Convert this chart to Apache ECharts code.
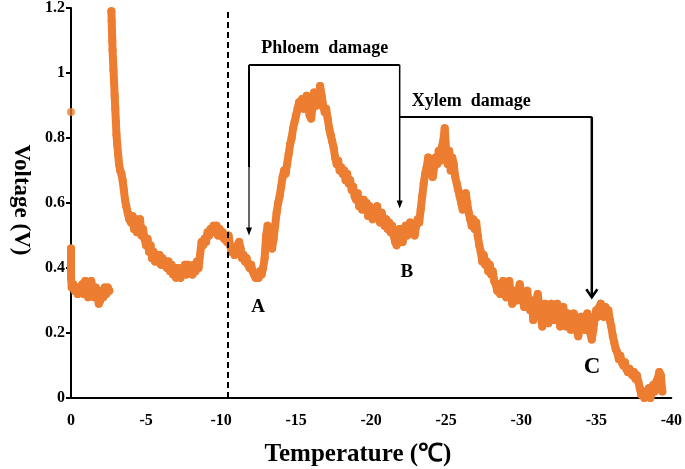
<!DOCTYPE html>
<html>
<head>
<meta charset="utf-8">
<script src="https://cdn.jsdelivr.net/npm/echarts@6/dist/echarts.min.js"></script>
<style>
html,body{margin:0;padding:0;background:#fff;}
#chart{width:685px;height:469px;}
</style>
</head>
<body>
<div id="chart"></div>
<script>
// ---- data (temperature in °C, voltage in V) ----
const xTicks = [0, -5, -10, -15, -20, -25, -30, -35, -40];
const yTicks = [0, 0.2, 0.4, 0.6, 0.8, 1, 1.2];

const outlierPoint = [[0, 0.88]];

const warmSegment = [
  [0,0.46],[0,0.43],[0,0.40],[0,0.37],[-0.05,0.34],[-0.15,0.35],[-0.25,0.33],[-0.35,0.34],
  [-0.45,0.32],[-0.55,0.34],[-0.65,0.33],[-0.75,0.35],[-0.85,0.32],[-0.95,0.36],[-1.05,0.33],
  [-1.15,0.31],[-1.25,0.34],[-1.35,0.36],[-1.45,0.33],[-1.55,0.31],[-1.65,0.34],[-1.75,0.32],
  [-1.85,0.29],[-1.95,0.30],[-2.05,0.33],[-2.15,0.31],[-2.25,0.34],[-2.35,0.32],[-2.45,0.34],[-2.55,0.33]
];

const coolingSegment = [
  [-2.69,1.19],[-2.71,1.16],[-2.73,1.13],[-2.75,1.10],[-2.77,1.07],[-2.80,1.04],[-2.83,1.01],
  [-2.87,0.97],[-2.91,0.93],[-2.95,0.89],[-2.99,0.85],[-3.03,0.81],[-3.08,0.78],[-3.14,0.75],
  [-3.20,0.72],[-3.28,0.70],[-3.36,0.69],[-3.44,0.67],[-3.52,0.64],[-3.60,0.61],[-3.68,0.59],
  [-3.78,0.57],[-3.88,0.55],[-4.0,0.54],[-4.1,0.56],[-4.2,0.52],[-4.3,0.55],[-4.4,0.51],
  [-4.5,0.54],[-4.6,0.55],[-4.7,0.50],[-4.8,0.52],[-4.9,0.49],[-5.0,0.47],[-5.1,0.49],
  [-5.2,0.45],[-5.3,0.47],[-5.4,0.43],[-5.5,0.45],[-5.6,0.42],[-5.7,0.44],[-5.8,0.42],
  [-5.9,0.44],[-6.0,0.41],[-6.1,0.43],[-6.2,0.41],[-6.3,0.42],[-6.4,0.40],[-6.5,0.42],
  [-6.6,0.39],[-6.7,0.41],[-6.8,0.38],[-6.9,0.40],[-7.0,0.37],[-7.1,0.40],[-7.2,0.38],
  [-7.3,0.37],[-7.4,0.40],[-7.5,0.38],[-7.6,0.41],[-7.7,0.38],[-7.8,0.41],[-7.9,0.39],
  [-8.0,0.40],[-8.1,0.38],[-8.2,0.41],[-8.3,0.39],[-8.4,0.42],[-8.5,0.40],[-8.6,0.44],
  [-8.7,0.48],[-8.8,0.47],[-8.9,0.49],[-9.0,0.48],[-9.1,0.51],[-9.2,0.50],[-9.3,0.52],
  [-9.4,0.51],[-9.5,0.53],[-9.6,0.52],[-9.7,0.53],[-9.8,0.50],[-9.9,0.52],[-10.0,0.50],
  [-10.1,0.51],[-10.2,0.49],[-10.3,0.50],[-10.4,0.48],[-10.5,0.50],[-10.6,0.47],[-10.7,0.45],
  [-10.8,0.46],[-10.9,0.44],[-11.0,0.45],[-11.1,0.47],[-11.2,0.48],[-11.3,0.46],[-11.4,0.43],
  [-11.5,0.44],[-11.6,0.42],[-11.7,0.43],[-11.8,0.41],[-11.9,0.40],[-12.0,0.41],[-12.1,0.39],
  [-12.2,0.38],[-12.3,0.37],[-12.4,0.38],[-12.5,0.37],[-12.6,0.39],[-12.7,0.38],[-12.8,0.40],
  [-12.9,0.43],[-13.0,0.50],[-13.1,0.53],[-13.2,0.50],[-13.3,0.47],[-13.4,0.46],[-13.5,0.49],
  [-13.6,0.53],[-13.7,0.57],[-13.8,0.60],[-13.9,0.62],[-14.0,0.65],[-14.1,0.68],[-14.2,0.70],
  [-14.3,0.69],[-14.4,0.72],[-14.5,0.75],[-14.6,0.78],[-14.7,0.80],[-14.8,0.83],[-14.9,0.85],
  [-15.0,0.87],[-15.1,0.89],[-15.2,0.91],[-15.3,0.90],[-15.4,0.92],[-15.5,0.89],[-15.6,0.91],
  [-15.7,0.93],[-15.8,0.90],[-15.9,0.87],[-16.0,0.86],[-16.1,0.90],[-16.2,0.94],[-16.3,0.92],
  [-16.4,0.90],[-16.5,0.93],[-16.6,0.96],[-16.7,0.93],[-16.8,0.90],[-16.9,0.88],[-17.0,0.89],
  [-17.1,0.86],[-17.2,0.83],[-17.3,0.81],[-17.4,0.79],[-17.5,0.77],[-17.6,0.74],[-17.7,0.72],
  [-17.8,0.73],[-17.9,0.70],[-18.0,0.71],[-18.1,0.69],[-18.2,0.70],[-18.3,0.67],[-18.4,0.69],
  [-18.5,0.66],[-18.6,0.67],[-18.7,0.64],[-18.8,0.65],[-18.9,0.62],[-19.0,0.61],[-19.1,0.63],
  [-19.2,0.59],[-19.3,0.60],[-19.4,0.58],[-19.5,0.61],[-19.6,0.58],[-19.7,0.60],[-19.8,0.56],
  [-19.9,0.59],[-20.0,0.57],[-20.1,0.55],[-20.2,0.58],[-20.3,0.56],[-20.4,0.59],[-20.5,0.56],
  [-20.6,0.54],[-20.7,0.57],[-20.8,0.55],[-20.9,0.53],[-21.0,0.55],[-21.1,0.52],[-21.2,0.54],
  [-21.3,0.51],[-21.4,0.53],[-21.5,0.50],[-21.6,0.48],[-21.7,0.47],[-21.8,0.50],[-21.9,0.52],
  [-22.0,0.49],[-22.1,0.48],[-22.2,0.51],[-22.3,0.53],[-22.4,0.50],[-22.5,0.52],[-22.6,0.54],
  [-22.7,0.51],[-22.8,0.53],[-22.9,0.50],[-23.0,0.53],[-23.1,0.55],[-23.2,0.54],[-23.3,0.58],
  [-23.4,0.62],[-23.5,0.66],[-23.6,0.69],[-23.7,0.71],[-23.8,0.74],[-23.9,0.70],[-24.0,0.73],
  [-24.1,0.68],[-24.2,0.71],[-24.3,0.74],[-24.4,0.72],[-24.5,0.76],[-24.6,0.73],[-24.7,0.77],
  [-24.8,0.79],[-24.9,0.83],[-25.0,0.76],[-25.1,0.72],[-25.2,0.76],[-25.3,0.70],[-25.4,0.74],
  [-25.5,0.72],[-25.6,0.68],[-25.7,0.66],[-25.8,0.64],[-25.9,0.62],[-26.0,0.60],[-26.1,0.58],
  [-26.2,0.61],[-26.3,0.63],[-26.4,0.60],[-26.5,0.57],[-26.6,0.55],[-26.7,0.53],[-26.8,0.55],
  [-26.9,0.52],[-27.0,0.54],[-27.1,0.50],[-27.2,0.47],[-27.3,0.45],[-27.4,0.42],[-27.5,0.44],
  [-27.6,0.41],[-27.7,0.42],[-27.8,0.39],[-27.9,0.41],[-28.0,0.38],[-28.1,0.39],[-28.2,0.36],
  [-28.3,0.35],[-28.4,0.33],[-28.5,0.35],[-28.6,0.32],[-28.7,0.34],[-28.8,0.36],[-28.9,0.33],
  [-29.0,0.31],[-29.1,0.34],[-29.2,0.36],[-29.3,0.32],[-29.4,0.29],[-29.5,0.31],[-29.6,0.33],
  [-29.7,0.30],[-29.8,0.33],[-29.9,0.35],[-30.0,0.32],[-30.1,0.30],[-30.2,0.28],[-30.3,0.31],
  [-30.4,0.33],[-30.5,0.29],[-30.6,0.27],[-30.7,0.30],[-30.8,0.24],[-30.9,0.27],[-31.0,0.30],
  [-31.1,0.32],[-31.2,0.28],[-31.3,0.25],[-31.4,0.22],[-31.5,0.26],[-31.6,0.29],[-31.7,0.26],
  [-31.8,0.23],[-31.9,0.27],[-32.0,0.29],[-32.1,0.26],[-32.2,0.24],[-32.3,0.27],[-32.4,0.29],
  [-32.5,0.25],[-32.6,0.22],[-32.7,0.25],[-32.8,0.28],[-32.9,0.25],[-33.0,0.22],[-33.1,0.26],
  [-33.2,0.24],[-33.3,0.21],[-33.4,0.23],[-33.5,0.26],[-33.6,0.24],[-33.7,0.21],[-33.8,0.19],
  [-33.9,0.22],[-34.0,0.25],[-34.1,0.23],[-34.2,0.21],[-34.3,0.23],[-34.4,0.26],[-34.5,0.22],
  [-34.6,0.20],[-34.7,0.18],[-34.8,0.21],[-34.9,0.25],[-35.0,0.27],[-35.1,0.25],[-35.2,0.28],
  [-35.3,0.29],[-35.4,0.27],[-35.5,0.25],[-35.6,0.28],[-35.7,0.26],[-35.8,0.27],[-35.9,0.24],
  [-36.0,0.22],[-36.1,0.19],[-36.2,0.17],[-36.3,0.15],[-36.4,0.14],[-36.5,0.12],[-36.6,0.13],
  [-36.7,0.11],[-36.8,0.10],[-36.9,0.11],[-37.0,0.09],[-37.1,0.08],[-37.2,0.09],[-37.3,0.08],
  [-37.4,0.07],[-37.5,0.08],[-37.6,0.06],[-37.7,0.07],[-37.8,0.05],[-37.9,0.03],[-38.0,0.01],
  [-38.1,0.02],[-38.2,0.0],[-38.3,0.02],[-38.4,0.01],[-38.5,0.03],[-38.6,0.0],[-38.7,0.02],
  [-38.8,0.04],[-38.9,0.02],[-39.0,0.05],[-39.1,0.06],[-39.2,0.08],[-39.3,0.07],[-39.4,0.02]
];

// annotation anchors (data space)
const freezeLineT = -10.43;
const phloem = { from: -11.86, to: -21.9, level: 1.025, tipFrom: 0.50, tipTo: 0.583, labelT: -16.9, labelV: 1.075 };
const xylem = { from: -21.9, to: -34.7, level: 0.865, tip: 0.31, labelT: -26.67, labelV: 0.914 };
const pointLabels = [
  { text: 'A', t: -12.47, v: 0.279, size: 19 },
  { text: 'B', t: -22.38, v: 0.386, size: 19 },
  { text: 'C', t: -34.72, v: 0.095, size: 23 }
];

const ORANGE = '#ED7D31';
const FONT = '"Liberation Serif", "Times New Roman", serif';

const chart = echarts.init(document.getElementById('chart'), null, { renderer: 'canvas' });

function seriesStyle(name, data) {
  return {
    name, type: 'line', data,
    symbol: 'circle', symbolSize: 8, showSymbol: true, showAllSymbol: true,
    lineStyle: { color: ORANGE, width: 8, cap: 'round', join: 'round' },
    itemStyle: { color: ORANGE },
    animation: false, silent: true, z: 3
  };
}

chart.setOption({
  animation: false,
  grid: { left: 71, right: 8, top: 7, bottom: 71, containLabel: false },
  xAxis: {
    type: 'value', min: -40, max: 0, interval: 5, inverse: true,
    axisLine: { show: true, onZero: false, lineStyle: { color: '#000', width: 2 } },
    axisTick: { show: false },
    splitLine: { show: false },
    axisLabel: {
      margin: 15, color: '#000', fontFamily: FONT, fontWeight: 'bold', fontSize: 16,
      formatter: v => xTicks.includes(v) ? String(v) : ''
    }
  },
  yAxis: {
    type: 'value', min: 0, max: 1.2, interval: 0.2,
    axisLine: { show: true, lineStyle: { color: '#000', width: 2 } },
    axisTick: { show: true, length: 5, lineStyle: { color: '#000', width: 2 } },
    splitLine: { show: false },
    axisLabel: {
      margin: 6, color: '#000', fontFamily: FONT, fontWeight: 'bold', fontSize: 16,
      formatter: v => { const m = yTicks.find(t => Math.abs(t - v) < 1e-6); return m === undefined ? '' : String(m); }
    }
  },
  series: [
    seriesStyle('warm', warmSegment),
    Object.assign(seriesStyle('cooling', coolingSegment), {
      markLine: {
        silent: true, symbol: ['none', 'none'], label: { show: false },
        lineStyle: { color: '#000', width: 2, type: [6, 4] },
        data: [{ xAxis: freezeLineT }]
      }
    }),
    {
      name: 'outlier', type: 'scatter', data: outlierPoint, symbolSize: 8,
      itemStyle: { color: ORANGE }, animation: false, silent: true
    }
  ]
});

function px(t, v) { return chart.convertToPixel({ gridIndex: 0 }, [t, v]); }

function downArrowFilled(p, w, h) {
  return { type: 'polygon', shape: { points: [[p[0] - w / 2, p[1] - h], [p[0] + w / 2, p[1] - h], [p[0], p[1]]] }, style: { fill: '#000' }, z: 10 };
}
function downArrowChevron(p, w, h, lw) {
  return { type: 'polyline', shape: { points: [[p[0] - w / 2, p[1] - h], [p[0], p[1]], [p[0] + w / 2, p[1] - h]] }, style: { stroke: '#000', lineWidth: lw, fill: null }, z: 10 };
}
function line(a, b, lw) {
  return { type: 'line', shape: { x1: a[0], y1: a[1], x2: b[0], y2: b[1] }, style: { stroke: '#000', lineWidth: lw }, z: 10 };
}
function text(str, p, size, extra) {
  return Object.assign({
    type: 'text', x: p[0], y: p[1],
    style: { text: str, fill: '#000', font: 'bold ' + size + 'px ' + FONT, align: 'center', verticalAlign: 'middle' },
    z: 10
  }, extra || {});
}

const g = [];
// Phloem bracket
const pL = px(phloem.from, phloem.level), pR = px(phloem.to, phloem.level);
const pLtip = px(phloem.from, phloem.tipFrom), pRtip = px(phloem.to, phloem.tipTo);
const pMid = [pL[0], pL[1] + (pLtip[1] - pL[1]) * 0.6];
g.push(line(pL, pR, 2));
g.push(line(pL, pMid, 2));
g.push(line(pMid, [pLtip[0], pLtip[1] - 4], 1.2));
g.push(downArrowFilled(pLtip, 6, 8));
g.push(line(pR, [pRtip[0], pRtip[1] - 4], 1.5));
g.push(downArrowFilled(pRtip, 6, 8));
g.push(text('Phloem  damage', px(phloem.labelT, phloem.labelV), 18));
// Xylem bracket
const xL = px(xylem.from, xylem.level), xR = px(xylem.to, xylem.level), xTip = px(xylem.to, xylem.tip);
g.push(line(xL, xR, 2));
g.push(line(xR, [xTip[0], xTip[1] - 1], 2.5));
g.push(downArrowChevron(xTip, 11, 8, 2.5));
g.push(text('Xylem  damage', px(xylem.labelT, xylem.labelV), 18));
// point labels
pointLabels.forEach(l => g.push(text(l.text, px(l.t, l.v), l.size)));
// axis titles
g.push(text('Temperature (\u2103)', [358, 455], 25));
g.push(text('Voltage (V)', [21, 200], 23, { rotation: -Math.PI / 2 }));

chart.setOption({ graphic: g });
</script>
</body>
</html>
